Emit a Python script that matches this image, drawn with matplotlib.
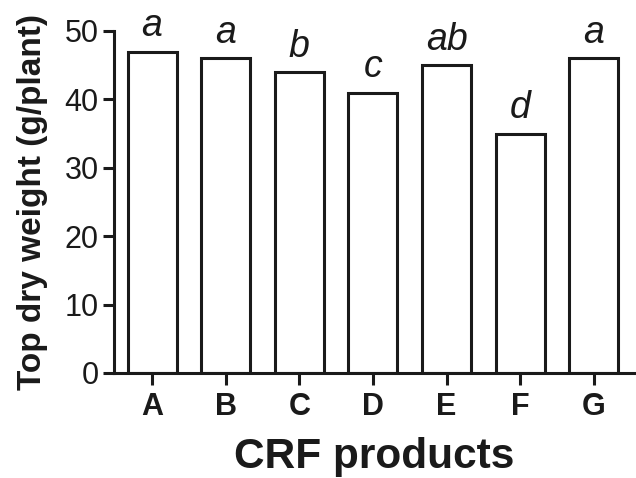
import matplotlib
matplotlib.use("Agg")
import matplotlib.pyplot as plt

# Top dry weight per CRF product, with significance letters
products = ["A", "B", "C", "D", "E", "F", "G"]
dry_weight = [47, 46, 44, 41, 45, 35, 46]
sig_letters = ["a", "a", "b", "c", "ab", "d", "a"]

plt.rcParams["font.family"] = ["Liberation Sans", "DejaVu Sans"]

fig = plt.figure(figsize=(6.36, 4.78), dpi=100)
ax = fig.add_axes([114 / 636, 1 - 373 / 478, (635 - 114) / 636, (373 - 31) / 478])

lw = 2.2
ink = "#1a1a1a"
x = list(range(len(products)))
ax.bar(x, dry_weight, width=0.665, color="white", edgecolor=ink,
       linewidth=lw, zorder=2)

for xi, val, lab in zip(x, dry_weight, sig_letters):
    ax.annotate(lab, (xi, val), xytext=(0, 11), textcoords="offset points",
                ha="center", va="baseline", fontsize=27, style="italic",
                color=ink, annotation_clip=False)

ax.set_xlim(-0.516, 6.557)
ax.set_ylim(0, 50)
ax.set_yticks([0, 10, 20, 30, 40, 50])
ax.set_xticks(x)
ax.set_xticklabels(products, fontsize=22, fontweight="bold")
ax.tick_params(axis="y", labelsize=22, length=8, width=lw, pad=3, colors=ink)
ax.tick_params(axis="x", length=8.5, width=lw, pad=5, colors=ink)

for side in ("top", "right"):
    ax.spines[side].set_visible(False)
for side in ("left", "bottom"):
    ax.spines[side].set_linewidth(lw)
    ax.spines[side].set_color(ink)

ax.set_ylabel("Top dry weight (g/plant)", fontsize=24, fontweight="bold",
              labelpad=12, color=ink)
ax.set_xlabel("CRF products", fontsize=30.5, fontweight="bold", labelpad=11,
              color=ink)

fig.savefig("out.png", dpi=100)
